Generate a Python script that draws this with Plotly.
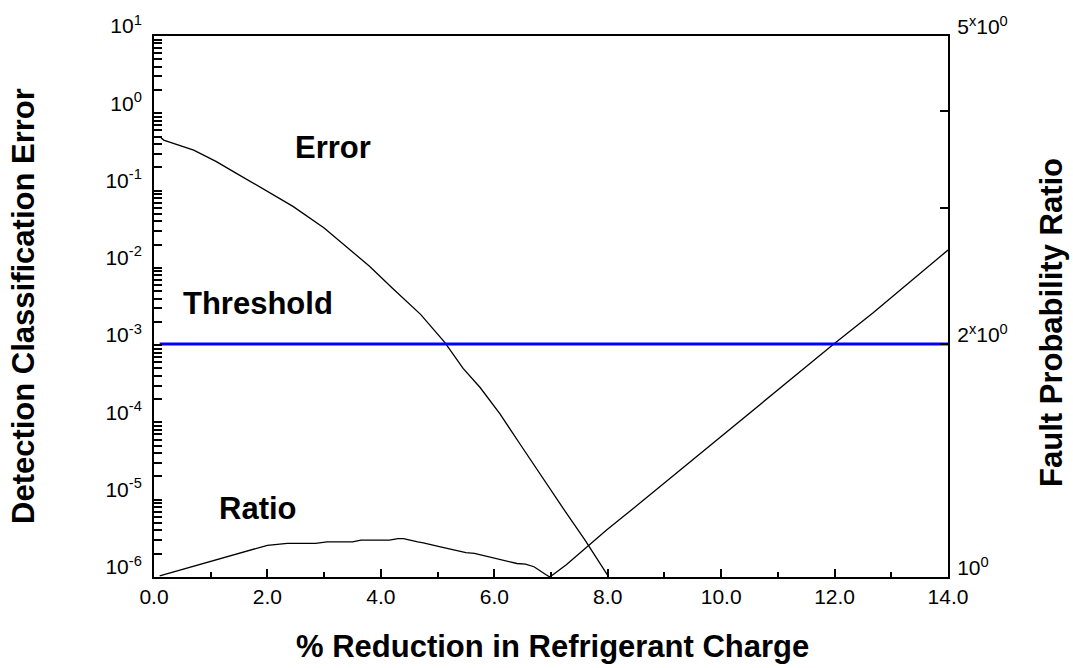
import plotly.graph_objects as go

# ---- data ----
error_x = [0.1, 0.17, 0.7, 1.1, 1.4, 1.9, 2.45, 3.0, 3.35, 3.8, 4.2, 4.7, 5.13, 5.45, 5.75, 6.1, 6.45, 6.8, 7.2, 7.6, 8.0]
error_y = [0.50, 0.45, 0.334, 0.237, 0.176, 0.107, 0.0625, 0.0327, 0.020, 0.0105, 5.5e-3, 2.5e-3,
           1.08e-3, 5.0e-4, 2.83e-4, 1.29e-4, 5.3e-5, 2.17e-5, 8.0e-6, 3.0e-6, 1.05e-6]

ratio_x = [0.1, 0.7, 2.0, 2.35, 2.85, 3.05, 3.5, 3.65, 4.15, 4.3, 4.4, 4.65, 4.75, 5.05, 5.5, 5.65,
           6.0, 6.1, 6.4, 6.55, 6.7, 6.92, 6.98, 7.27, 7.98, 8.45, 9.33, 9.97, 10.9, 11.97, 12.68, 13.6, 14.0]
ratio_y = [1.003, 1.033, 1.099, 1.105, 1.105, 1.110, 1.110, 1.116, 1.116, 1.121, 1.121, 1.110, 1.107,
           1.094, 1.075, 1.073, 1.057, 1.054, 1.041, 1.039, 1.031, 1.006, 1.0, 1.037, 1.150, 1.226,
           1.385, 1.513, 1.725, 1.995, 2.195, 2.50, 2.645]

threshold_x = [0.1, 14.0]
threshold_y = [2.0, 2.0]

x_ticks = [0, 2, 4, 6, 8, 10, 12, 14]
x_minor = [1, 3, 5, 7, 9, 11, 13]
left_decades = [-6, -5, -4, -3, -2, -1, 0, 1]
right_ticks = [1, 2, 3, 4, 5]
right_labels = ["10<sup>0</sup>", "2<sup>x</sup>10<sup>0</sup>", "", "", "5<sup>x</sup>10<sup>0</sup>"]

FONT = "Arial, Liberation Sans, Helvetica, sans-serif"
W, H = 1073, 668
L, R, T, B = 154, 948, 34, 577
TICKFONT = dict(family=FONT, size=21, color="black")
BIG = dict(family=FONT, size=31, color="black")

left_vals = [10.0 ** d for d in left_decades]
left_text = ["10<sup>%d</sup>" % d for d in left_decades]
left_minor = [m * 10.0 ** d for d in left_decades[:-1] for m in range(2, 10)]

fig = go.Figure()
fig.add_trace(go.Scatter(x=error_x, y=error_y, mode="lines", line=dict(color="black", width=1.3),
                         yaxis="y", showlegend=False))
fig.add_trace(go.Scatter(x=ratio_x, y=ratio_y, mode="lines", line=dict(color="black", width=1.3),
                         yaxis="y2", showlegend=False))
fig.add_trace(go.Scatter(x=threshold_x, y=threshold_y, mode="lines", line=dict(color="#0000ff", width=3),
                         yaxis="y2", showlegend=False))


def px(xp):
    return (xp - L) / (R - L)


def py(yp):
    return (B - yp) / (B - T)


annots = []
for text, xp, yp in [("<b>Error</b>", 333, 146), ("<b>Threshold</b>", 258, 302),
                     ("<b>Ratio</b>", 258, 508)]:
    annots.append(dict(text=text, x=px(xp), y=py(yp), xref="paper", yref="paper",
                       showarrow=False, xanchor="center", yanchor="middle", font=BIG))
annots.append(dict(text="<b>Detection Classification Error</b>", x=px(23), y=py(305),
                   xref="paper", yref="paper", showarrow=False, textangle=-90,
                   xanchor="center", yanchor="middle", font=BIG))
annots.append(dict(text="<b>Fault Probability Ratio</b>", x=px(1052), y=py(322),
                   xref="paper", yref="paper", showarrow=False, textangle=-90,
                   xanchor="center", yanchor="middle", font=BIG))
annots.append(dict(text="<b>% Reduction in Refrigerant Charge</b>", x=px(552), y=py(647),
                   xref="paper", yref="paper", showarrow=False,
                   xanchor="center", yanchor="middle", font=BIG))

fig.update_layout(
    width=W, height=H,
    margin=dict(l=L, r=W - R, t=T, b=H - B, pad=0),
    paper_bgcolor="white", plot_bgcolor="white",
    font=dict(family=FONT, size=21, color="black"),
    xaxis=dict(range=[0, 14], tickvals=x_ticks, tickformat=".1f", ticks="inside", ticklen=8,
               tickwidth=1.5, tickcolor="black", showline=True, linewidth=2, linecolor="black",
               mirror=True, showgrid=False, zeroline=False, tickfont=TICKFONT,
               ticklabelstandoff=0,
               minor=dict(tickvals=x_minor, ticks="inside", ticklen=5,
                          tickwidth=1.5, tickcolor="black", showgrid=False)),
    yaxis=dict(type="log", range=[-6, 1], tickvals=left_vals, ticktext=left_text, ticks="inside",
               ticklen=8, tickwidth=1.5, tickcolor="black", showline=True, linewidth=2,
               linecolor="black", showgrid=False, zeroline=False, ticklabelshift=-10,
               ticklabelstandoff=6, tickfont=TICKFONT,
               minor=dict(tickvals=left_minor, ticks="inside", ticklen=8, tickwidth=1.5,
                          tickcolor="black", showgrid=False)),
    yaxis2=dict(type="log", range=[0, 0.69897], overlaying="y", side="right", tickvals=right_ticks,
                ticktext=right_labels, ticks="inside", ticklen=8, tickwidth=1.5, tickcolor="black",
                showline=True, linewidth=2, linecolor="black", showgrid=False, zeroline=False,
                ticklabelshift=-9, ticklabelstandoff=3, tickfont=TICKFONT),
    annotations=annots,
)

fig.write_html("out.html")
